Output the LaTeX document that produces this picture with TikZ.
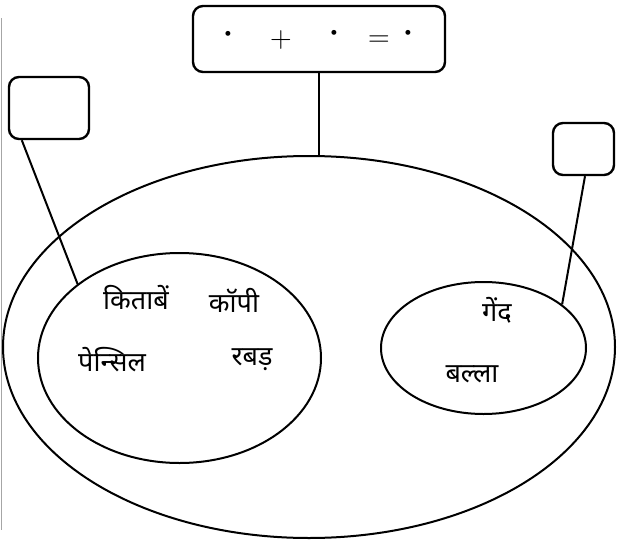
\documentclass[tikz,border=0pt]{standalone}
\usepackage{fontspec}
\newfontfamily\deva[Script=Devanagari]{Noto Sans}
\usetikzlibrary{shapes.geometric}
\tikzset{
  setline/.style={draw, ellipse, line width=2pt, inner sep=0pt},
  labelbox/.style={draw, rounded corners=10pt, line width=2.4pt, inner sep=0pt},
  conn/.style={line width=2pt},
  word/.style={font=\deva\bfseries\fontsize{27}{30}\selectfont, inner sep=0pt},
  sym/.style={font=\fontsize{30}{32}\selectfont, inner sep=0pt},
  dotsym/.style={font=\bfseries\fontsize{34}{36}\selectfont, inner sep=0pt}
}
\begin{document}
\begin{tikzpicture}[x=1pt,y=-1pt]
\useasboundingbox (0,0) rectangle (619,541);
\draw[gray!70, line width=1pt] (1,18) -- (1,530);
% sets
\node[setline, minimum width=612pt, minimum height=382pt] (big) at (309,347) {};
\node[setline, minimum width=283pt, minimum height=210pt] (lset) at (179.5,358) {};
\node[setline, minimum width=205pt, minimum height=132pt] (rset) at (483.5,348) {};
% boxes
\node[labelbox, minimum width=252pt, minimum height=66pt] (tbox) at (319,39) {};
\node[labelbox, minimum width=80pt, minimum height=62pt] (lbox) at (49,108) {};
\node[labelbox, minimum width=61pt, minimum height=52pt] (rbox) at (583.5,149) {};
% equation
\node[dotsym] (d1) at (228,38) {·};
\node[sym] (plus) at (281,40) {+};
\node[dotsym] (d2) at (334,37) {·};
\node[sym] (eq) at (379,41) {=};
\node[dotsym] (d3) at (408,37) {·};
% connectors
\draw[conn] (tbox.south) -- (tbox.south |- big.north);
\draw[conn] ([xshift=14pt]lbox.south west) -- (lset.144);
\draw[conn] ([xshift=1.5pt]rbox.south) -- (rset.29);
% words
\node[word] (w1) at (136,298) {किताबें};
\node[word] (w2) at (234,300) {कॉपी};
\node[word] (w3) at (112,360) {पेन्सिल};
\node[word] (w4) at (252,360) {रबड़};
\node[word] (w5) at (497,310) {गेंद};
\node[word] (w6) at (472,374) {बल्ला};
\end{tikzpicture}
\end{document}
